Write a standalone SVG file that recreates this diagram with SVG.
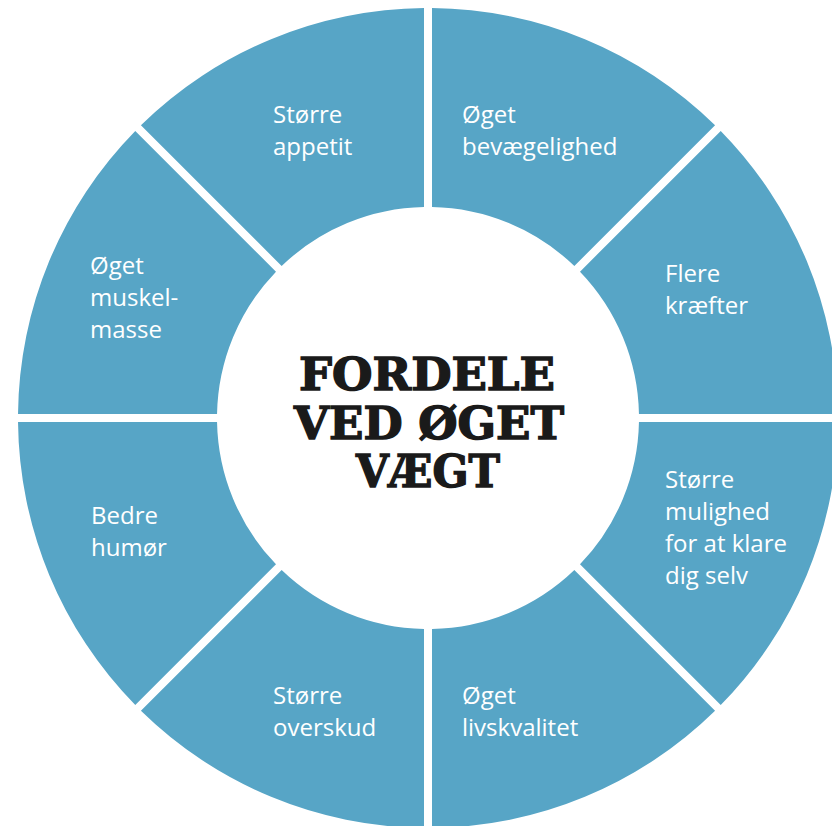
<svg xmlns="http://www.w3.org/2000/svg" xmlns:xlink="http://www.w3.org/1999/xlink" width="832" height="826" viewBox="0 0 832 826">
  <style>
    .seg { fill: #57a5c6; }
    .lbl { font-family: "Open Sans", "Noto Sans", "DejaVu Sans", sans-serif; font-size: 24px; font-weight: 500; fill: #ffffff; }
    .title { font-family: "DejaVu Serif", "Liberation Serif", serif; font-weight: bold; font-size: 44px; fill: #1a1a1a; stroke: #1a1a1a; stroke-width: 1.4; text-anchor: middle; }
  </style>
  <defs>
    <path id="segshape" d="M409.98,4 A410,410 0 0 1 292.73,287.07 L152.00,146.34 A211,211 0 0 0 210.96,4 Z"/>
  </defs>
  <rect width="832" height="826" fill="#ffffff"/>
  <g id="segments" transform="translate(428,418)">
    <g id="seg-stoerre-mulighed"><use xlink:href="#segshape" class="seg" transform="rotate(0)"/></g>
    <g id="seg-livskvalitet"><use xlink:href="#segshape" class="seg" transform="rotate(45)"/></g>
    <g id="seg-overskud"><use xlink:href="#segshape" class="seg" transform="rotate(90)"/></g>
    <g id="seg-humoer"><use xlink:href="#segshape" class="seg" transform="rotate(135)"/></g>
    <g id="seg-muskelmasse"><use xlink:href="#segshape" class="seg" transform="rotate(180)"/></g>
    <g id="seg-appetit"><use xlink:href="#segshape" class="seg" transform="rotate(225)"/></g>
    <g id="seg-bevaegelighed"><use xlink:href="#segshape" class="seg" transform="rotate(270)"/></g>
    <g id="seg-kraefter"><use xlink:href="#segshape" class="seg" transform="rotate(315)"/></g>
  </g>
  <g id="labels">
    <g id="lbl-appetit"><text class="lbl" x="273" y="123">Større</text><text class="lbl" x="273" y="155">appetit</text></g>
    <g id="lbl-bevaegelighed"><text class="lbl" x="462" y="123">Øget</text><text class="lbl" x="462" y="155">bevægelighed</text></g>
    <g id="lbl-muskelmasse"><text class="lbl" x="90" y="274">Øget</text><text class="lbl" x="90" y="306">muskel-</text><text class="lbl" x="90" y="338">masse</text></g>
    <g id="lbl-kraefter"><text class="lbl" x="665" y="282">Flere</text><text class="lbl" x="665" y="314">kræfter</text></g>
    <g id="lbl-stoerre-mulighed"><text class="lbl" x="665" y="488">Større</text><text class="lbl" x="665" y="520">mulighed</text><text class="lbl" x="665" y="552">for at klare</text><text class="lbl" x="665" y="584">dig selv</text></g>
    <g id="lbl-humoer"><text class="lbl" x="91" y="524">Bedre</text><text class="lbl" x="91" y="556">humør</text></g>
    <g id="lbl-overskud"><text class="lbl" x="273" y="704">Større</text><text class="lbl" x="273" y="736">overskud</text></g>
    <g id="lbl-livskvalitet"><text class="lbl" x="462" y="704">Øget</text><text class="lbl" x="462" y="736">livskvalitet</text></g>
  </g>
  <g id="center-title">
    <text class="title" x="427" y="390" textLength="256" lengthAdjust="spacingAndGlyphs">FORDELE</text>
    <text class="title" x="429" y="439" textLength="270" lengthAdjust="spacingAndGlyphs">VED ØGET</text>
    <text class="title" x="428" y="487" textLength="144" lengthAdjust="spacingAndGlyphs">VÆGT</text>
  </g>
</svg>
